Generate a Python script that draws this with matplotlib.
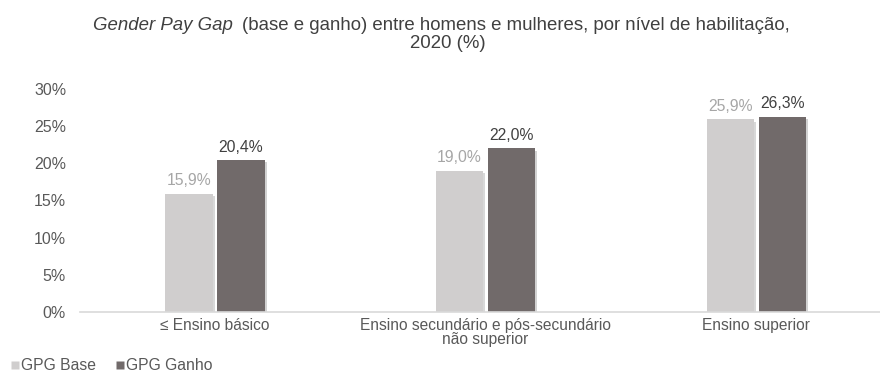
import matplotlib
matplotlib.use("Agg")
import matplotlib.pyplot as plt
import matplotlib.patheffects as pe
from matplotlib.lines import Line2D
import numpy as np

plt.rcParams['font.family'] = ['Liberation Sans', 'DejaVu Sans']

categories = ["\u2264 Ensino básico",
              "Ensino secundário e pós-secundário\nnão superior",
              "Ensino superior"]
gpg_base = [15.9, 19.0, 25.9]
gpg_ganho = [20.4, 22.0, 26.3]
series_names = ["GPG Base", "GPG Ganho"]

c_base = '#D0CECE'
c_ganho = '#716A6A'
c_text = '#595959'

fig = plt.figure(figsize=(8.8, 3.76), dpi=100)
ax = fig.add_axes([80 / 880, 1 - 312 / 376, 800 / 880, (312 - 89) / 376])

x = np.arange(len(categories))
w = 0.174
off = 0.096
shadow = [pe.SimplePatchShadow(offset=(1.5, -1.5), alpha=0.2), pe.Normal()]

ax.bar(x - off, gpg_base, w, color=c_base, path_effects=shadow)
ax.bar(x + off, gpg_ganho, w, color=c_ganho, path_effects=shadow)

# data labels
for xi, v in zip(x - off, gpg_base):
    ax.annotate(f"{v:.1f}%".replace('.', ','), (xi, v), xytext=(0, 4),
                textcoords='offset points', ha='center', va='bottom',
                fontsize=11.3, color='#A6A6A6')
for xi, v in zip(x + off, gpg_ganho):
    ax.annotate(f"{v:.1f}%".replace('.', ','), (xi, v), xytext=(0, 4),
                textcoords='offset points', ha='center', va='bottom',
                fontsize=11.3, color='#404040')

ax.set_xlim(-0.499, 2.458)
ax.set_ylim(0, 30)
ax.set_yticks(np.arange(0, 31, 5))
ax.set_yticklabels([f"{t}%" for t in range(0, 31, 5)])
ax.set_xticks(x)
ax.set_xticklabels(categories, linespacing=0.95)
ax.tick_params(axis='both', length=0, colors=c_text)
ax.tick_params(axis='y', pad=10, labelsize=11.5)
ax.tick_params(axis='x', pad=4, labelsize=11.2)
for s in ['top', 'right', 'left']:
    ax.spines[s].set_visible(False)
ax.spines['bottom'].set_color('#D9D9D9')
ax.spines['bottom'].set_linewidth(1.2)

# title: italic part + regular part
t1 = fig.text(93 / 880, 1 - 25 / 376, "Gender Pay Gap", ha='left', va='center',
              fontsize=13.4, style='italic', color='#404040')
fig.canvas.draw()
bb = t1.get_window_extent()
fig.text((bb.x1 + 9) / 880, 1 - 25 / 376,
         "(base e ganho) entre homens e mulheres, por nível de habilitação,",
         ha='left', va='center', fontsize=13.4, color='#404040')
fig.text(448 / 880, 1 - 43 / 376, "2020 (%)", ha='center', va='center',
         fontsize=13.4, color='#404040')

handles = [Line2D([], [], marker='s', color='none', markerfacecolor=c_base,
                  markeredgecolor='none', markersize=6),
           Line2D([], [], marker='s', color='none', markerfacecolor=c_ganho,
                  markeredgecolor='none', markersize=6)]
fig.legend(handles, series_names, loc='center left', bbox_to_anchor=(0.008, 1 - 366 / 376),
           ncol=2, frameon=False, fontsize=11.3, handlelength=0.6, handletextpad=0.1,
           columnspacing=1.2, labelcolor=c_text, borderaxespad=0, borderpad=0.2)

fig.savefig('out.png', dpi=100)
